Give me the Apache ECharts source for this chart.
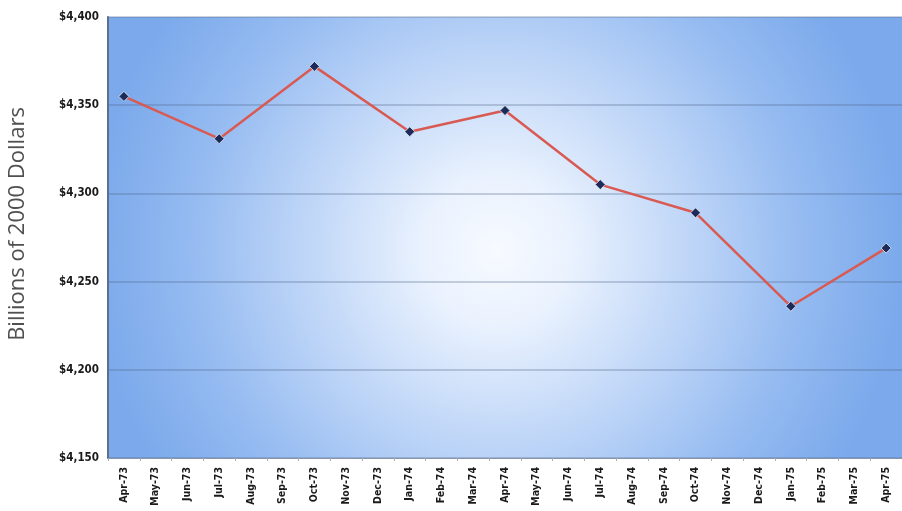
<!DOCTYPE html>
<html>
<head>
<meta charset="utf-8">
<style>
  html, body { margin: 0; padding: 0; background: #ffffff; }
  #chart { width: 902px; height: 511px; }
</style>
<script src="https://cdn.jsdelivr.net/npm/echarts@6/dist/echarts.min.js"></script>
</head>
<body>
<div id="chart"></div>
<script>
// Monthly categories, Apr-73 through Apr-75
const months = [
  'Apr-73','May-73','Jun-73','Jul-73','Aug-73','Sep-73','Oct-73','Nov-73','Dec-73',
  'Jan-74','Feb-74','Mar-74','Apr-74','May-74','Jun-74','Jul-74','Aug-74','Sep-74',
  'Oct-74','Nov-74','Dec-74','Jan-75','Feb-75','Mar-75','Apr-75'
];

// Quarterly real GDP (billions of 2000 dollars); months without a reading are null
const realGdp = [
  4355, null, null, 4331, null, null, 4372, null, null,
  4335, null, null, 4347, null, null, 4305, null, null,
  4289, null, null, 4236, null, null, 4269
];

// Value axis range and step
const yMin = 4150;
const yMax = 4400;
const yStep = 50;

const axisTitle = 'Billions of 2000 Dollars';

const chart = echarts.init(document.getElementById('chart'), null, { renderer: 'canvas' });

chart.setOption({
  animation: false,
  backgroundColor: '#ffffff',
  grid: {
    left: 108,
    right: -6,
    top: 17,
    bottom: 53,
    show: true,
    borderWidth: 0,
    backgroundColor: new echarts.graphic.RadialGradient(0.49, 0.53, 0.92, [
      { offset: 0, color: '#f7faff' },
      { offset: 0.18, color: '#eaf2fe' },
      { offset: 0.45, color: '#c2d8f8' },
      { offset: 0.75, color: '#95bbf1' },
      { offset: 1, color: '#7ba9eb' }
    ])
  },
  graphic: [{
    type: 'text',
    x: 18,
    y: 224,
    rotation: Math.PI / 2,
    style: {
      text: axisTitle,
      fill: '#505050',
      font: '22px "Open Sans"',
      textAlign: 'center',
      textVerticalAlign: 'middle'
    }
  }],
  xAxis: {
    type: 'category',
    data: months,
    boundaryGap: true,
    axisLine: { lineStyle: { color: '#8a96a8', width: 1 } },
    axisTick: { show: true, length: 3, lineStyle: { color: '#a3adbb' } },
    axisLabel: {
      rotate: 90,
      interval: 0,
      color: '#1a1a1a',
      fontFamily: 'DejaVu Sans Condensed',
      fontWeight: 'bold',
      fontSize: 10.5,
      margin: 9
    },
    splitLine: { show: false }
  },
  yAxis: {
    type: 'value',
    min: yMin,
    max: yMax,
    interval: yStep,
    axisLine: { show: true, lineStyle: { color: '#5d6f8c', width: 2 } },
    axisTick: { show: false },
    axisLabel: {
      color: '#1a1a1a',
      fontFamily: 'DejaVu Sans Condensed',
      fontWeight: 'bold',
      fontSize: 11.5,
      margin: 9,
      formatter: v => '$' + v.toLocaleString('en-US')
    },
    splitLine: { show: true, lineStyle: { color: 'rgba(80,100,135,0.38)', width: 1.5 } }
  },
  series: [{
    type: 'line',
    data: realGdp,
    connectNulls: true,
    lineStyle: { color: '#d85a52', width: 2.5 },
    symbol: 'diamond',
    symbolSize: 10,
    itemStyle: { color: '#1d2b5a', borderColor: '#e6edf8', borderWidth: 0.8 },
    z: 3
  }]
});
</script>
</body>
</html>
